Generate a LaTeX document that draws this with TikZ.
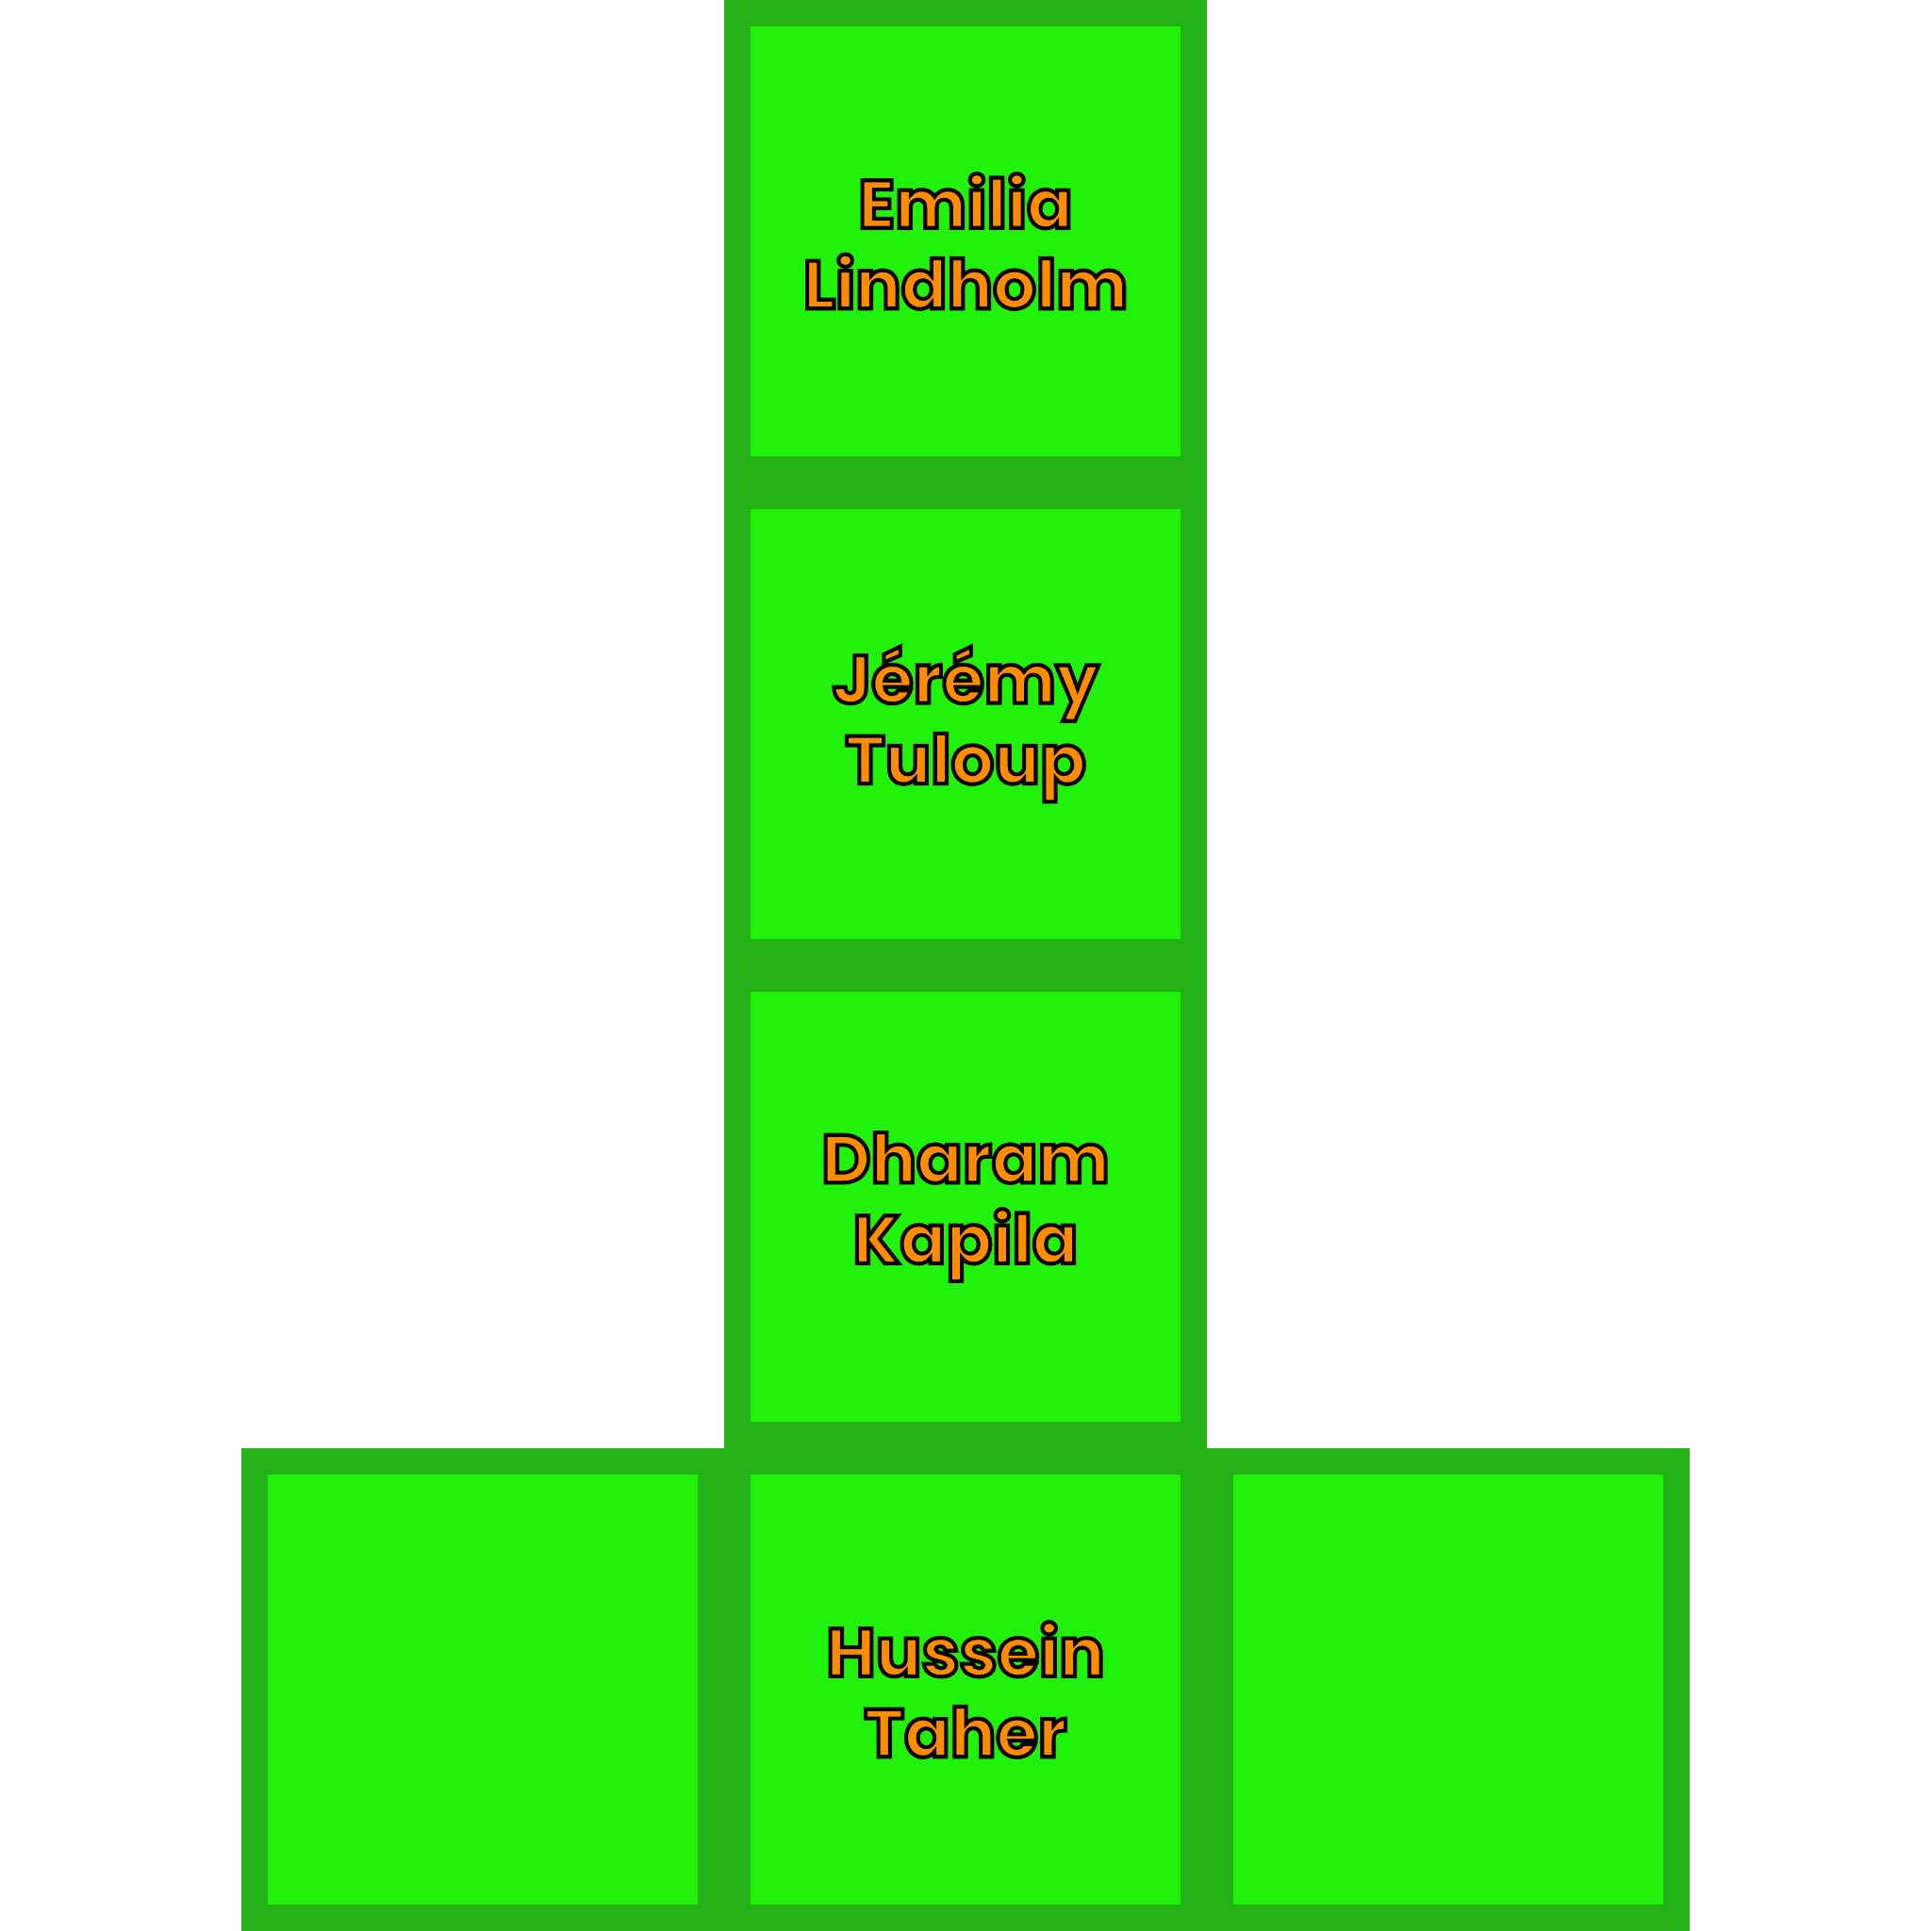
\documentclass[tikz,border=0pt]{standalone}
\usepackage{fontspec}
\newfontfamily\namefont{Poppins}
\usetikzlibrary{positioning}
\definecolor{cellfill}{RGB}{32,242,12}
\definecolor{cellborder}{RGB}{37,178,22}
\definecolor{nameorange}{RGB}{255,140,0}
\newcommand{\outlined}[1]{\special{pdf:literal direct 2 Tr 0.9 w 0 0 0 RG}#1\special{pdf:literal direct 0 Tr}}

\begin{document}
\begin{tikzpicture}[node distance=0pt, cell/.style={draw=cellborder, fill=cellfill, line width=0.22cm, minimum size=3.78cm, inner sep=0pt, align=center, text=nameorange, font=\namefont\bfseries\fontsize{16}{19}\selectfont}]
\useasboundingbox (0,0) rectangle (16,16);
\node[cell] (emilia) at (8,14) {\outlined{Emilia}\\\outlined{Lindholm}};
\node[cell, below=of emilia] (jeremy) {\outlined{Jérémy}\\\outlined{Tuloup}};
\node[cell, below=of jeremy] (dharam) {\outlined{Dharam}\\\outlined{Kapila}};
\node[cell, below=of dharam] (hussein) {\outlined{Hussein}\\\outlined{Taher}};
\node[cell, left=of hussein] (leftcell) {};
\node[cell, right=of hussein] (rightcell) {};
\end{tikzpicture}
\end{document}
